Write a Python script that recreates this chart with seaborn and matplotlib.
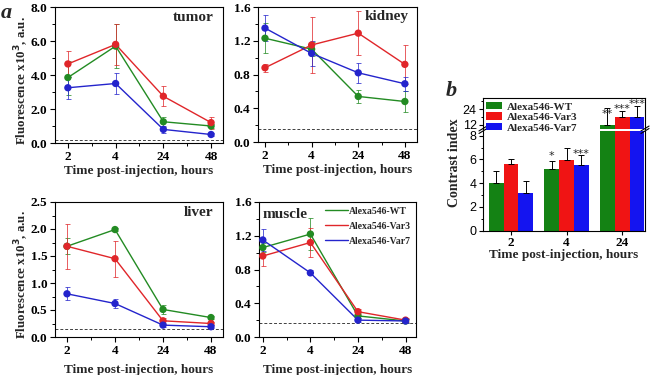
import numpy as np
import pandas as pd
import matplotlib
matplotlib.use('Agg')
import matplotlib.pyplot as plt
import seaborn as sns
from matplotlib.ticker import MultipleLocator, FormatStrFormatter, FixedLocator
from matplotlib.lines import Line2D
from matplotlib.patches import Patch

# ---------------- data ----------------
times = ['2', '4', '24', '48']
variants = ['Alexa546-WT', 'Alexa546-Var3', 'Alexa546-Var7']

tumor_wt = [3.85, 5.70, 1.25, 1.00]
tumor_wt_err = [1.00, 1.30, 0.30, 0.12]
tumor_var3 = [4.65, 5.80, 2.75, 1.20]
tumor_var3_err = [0.75, 1.20, 0.60, 0.35]
tumor_var7 = [3.25, 3.50, 0.80, 0.50]
tumor_var7_err = [0.65, 0.60, 0.20, 0.10]

kidney_wt = [1.23, 1.10, 0.54, 0.48]
kidney_wt_err = [0.18, 0.08, 0.08, 0.12]
kidney_var3 = [0.88, 1.15, 1.29, 0.92]
kidney_var3_err = [0.05, 0.33, 0.26, 0.23]
kidney_var7 = [1.35, 1.05, 0.82, 0.69]
kidney_var7_err = [0.15, 0.15, 0.12, 0.08]

liver_wt = [1.68, 1.99, 0.51, 0.36]
liver_wt_err = [0.15, 0.03, 0.08, 0.03]
liver_var3 = [1.68, 1.45, 0.30, 0.25]
liver_var3_err = [0.42, 0.33, 0.05, 0.03]
liver_var7 = [0.80, 0.62, 0.22, 0.19]
liver_var7_err = [0.12, 0.08, 0.04, 0.03]

muscle_wt = [1.06, 1.22, 0.25, 0.19]
muscle_wt_err = [0.05, 0.19, 0.03, 0.02]
muscle_var3 = [0.96, 1.12, 0.30, 0.20]
muscle_var3_err = [0.12, 0.17, 0.03, 0.02]
muscle_var7 = [1.15, 0.76, 0.20, 0.19]
muscle_var7_err = [0.13, 0.03, 0.02, 0.02]

baseline = {'tumor': 0.15, 'kidney': 0.16, 'liver': 0.15, 'muscle': 0.17}

bar_times = ['2', '4', '24']
ci_wt = [4.05, 5.20, 12.0]
ci_wt_err = [0.95, 0.65, 13.0]
ci_var3 = [5.60, 5.95, 17.8]
ci_var3_err = [0.40, 1.05, 4.9]
ci_var7 = [3.20, 5.55, 18.2]
ci_var7_err = [0.95, 0.85, 8.6]

# ---------------- style ----------------
sns.set_theme(style='ticks')
plt.rcParams['font.family'] = ['Liberation Serif', 'DejaVu Serif']
plt.rcParams['font.weight'] = 'bold'
plt.rcParams['axes.labelweight'] = 'bold'
plt.rcParams['axes.linewidth'] = 0.8
plt.rcParams['axes.edgecolor'] = 'black'
plt.rcParams['xtick.color'] = 'black'
plt.rcParams['ytick.color'] = 'black'

line_colors = ['#238b23', '#e0262a', '#2424cc']
bar_colors = ['#148214', '#f01414', '#1414f0']

W, H = 653, 375
fig = plt.figure(figsize=(W / 100, H / 100), dpi=100)


def frac(l, t, r, b):
    return [l / W, 1 - b / H, (r - l) / W, (b - t) / H]


organs = {
    'tumor': ([tumor_wt, tumor_var3, tumor_var7],
              [tumor_wt_err, tumor_var3_err, tumor_var7_err]),
    'kidney': ([kidney_wt, kidney_var3, kidney_var7],
               [kidney_wt_err, kidney_var3_err, kidney_var7_err]),
    'liver': ([liver_wt, liver_var3, liver_var7],
              [liver_wt_err, liver_var3_err, liver_var7_err]),
    'muscle': ([muscle_wt, muscle_var3, muscle_var7],
               [muscle_wt_err, muscle_var3_err, muscle_var7_err]),
}

panel_cfg = {
    'tumor': dict(rect=(55, 7, 223, 143), xlim=(-0.27, 3.25), ylim=(0, 8), major=2, minor=1,
                  lab=(0.945, 0.926, 'right'), ylabel=True, lpad=2),
    'kidney': dict(rect=(258, 7, 417, 142), xlim=(-0.15, 3.26), ylim=(0, 1.6), major=0.4, minor=0.2,
                   lab=(0.945, 0.926, 'right'), ylabel=False, lpad=2),
    'liver': dict(rect=(55, 202, 223, 337), xlim=(-0.25, 3.25), ylim=(0, 2.5), major=0.5, minor=0.25,
                  lab=(0.945, 0.919, 'right'), ylabel=True, lpad=5),
    'muscle': dict(rect=(259, 202, 416, 337), xlim=(-0.08, 3.22), ylim=(0, 1.6), major=0.4, minor=0.2,
                   lab=(0.02, 0.907, 'left'), ylabel=False, lpad=5),
}

for organ, (vals, errs) in organs.items():
    cfg = panel_cfg[organ]
    ax = fig.add_axes(frac(*cfg['rect']))
    rows = []
    for name, vv, ee in zip(variants, vals, errs):
        for i, t in enumerate(times):
            rows.append(dict(pos=i, time=t, variant=name, value=vv[i], err=ee[i]))
    df = pd.DataFrame(rows)
    ax.axhline(baseline[organ], ls=(0, (3, 2)), color='0.25', lw=0.7, zorder=1)
    sns.lineplot(data=df, x='pos', y='value', hue='variant', palette=line_colors,
                 hue_order=variants, lw=1.0, ax=ax, legend=False, zorder=3)
    for name, c in zip(variants, line_colors):
        sub = df[df.variant == name]
        ax.errorbar(sub.pos, sub.value, yerr=sub.err, fmt='none', ecolor=c,
                    elinewidth=0.7, capsize=1.8, capthick=0.7, alpha=0.75, zorder=2)
    sns.scatterplot(data=df, x='pos', y='value', hue='variant', palette=line_colors,
                    hue_order=variants, s=28, linewidth=0, ax=ax, legend=False, zorder=4)
    ax.set_xlim(*cfg['xlim'])
    ax.set_ylim(*cfg['ylim'])
    ax.set_xticks(range(len(times)))
    ax.set_xticklabels(times)
    ax.xaxis.set_minor_locator(FixedLocator([0.5, 1.5, 2.5]))
    ax.yaxis.set_major_locator(MultipleLocator(cfg['major']))
    ax.yaxis.set_minor_locator(MultipleLocator(cfg['minor']))
    ax.yaxis.set_major_formatter(FormatStrFormatter('%.1f'))
    ax.tick_params(which='major', direction='out', length=3.5, width=0.8, labelsize=9.5, pad=2)
    ax.tick_params(which='minor', direction='out', length=2, width=0.7)
    for s in ax.spines.values():
        s.set_visible(True)
        s.set_linewidth(0.8)
    ax.set_xlabel('Time post-injection, hours', fontsize=9.5, fontweight='bold', labelpad=cfg['lpad'])
    if cfg['ylabel']:
        ax.set_ylabel('Fluorescence x10$^\\mathbf{3}$, a.u.', fontsize=9.3, fontweight='bold')
        ax.yaxis.set_label_coords((31 - 55) / 168, 0.46)
    else:
        ax.set_ylabel('')
    lx, ly, ha = cfg['lab']
    ax.text(lx, ly, organ, transform=ax.transAxes, ha=ha, va='center', fontsize=11, fontweight='bold')
    if organ == 'muscle':
        handles = [Line2D([], [], color=c, lw=1.0) for c in line_colors]
        ax.legend(handles, variants, loc='upper right', frameon=False, fontsize=7,
                  handlelength=2.3, handletextpad=0.15, labelspacing=0.6,
                  borderaxespad=0.1, bbox_to_anchor=(1.0, 1.0))

fig.text(1 / W, 1 - 13 / H, 'a', fontsize=16, fontweight='bold', fontstyle='italic', va='center')
fig.text(446 / W, 1 - 91 / H, 'b', fontsize=16, fontweight='bold', fontstyle='italic', va='center')

# ---------------- panel b ----------------
rows = []
for name, vv, ee in zip(variants, [ci_wt, ci_var3, ci_var7], [ci_wt_err, ci_var3_err, ci_var7_err]):
    for i, t in enumerate(bar_times):
        rows.append(dict(time=t, variant=name, value=vv[i], err=ee[i]))
dfb = pd.DataFrame(rows)

ax_hi = fig.add_axes(frac(483, 98, 645, 128.5))
ax_lo = fig.add_axes(frac(483, 131, 645, 230.7))

for axb in (ax_lo, ax_hi):
    sns.barplot(data=dfb, x='time', y='value', hue='variant', hue_order=variants,
                palette=bar_colors, errorbar=None, saturation=1, width=0.8,
                linewidth=0, ax=axb, legend=False, zorder=2)
    for cont, name in zip(axb.containers, variants):
        sub = dfb[dfb.variant == name]
        xs = [b.get_x() + b.get_width() / 2 for b in cont]
        axb.errorbar(xs, sub.value, yerr=[np.zeros(len(sub)), sub.err], fmt='none',
                     ecolor='black', elinewidth=0.7, capsize=2.2, capthick=0.7, zorder=3)
    axb.set_xlim(-0.505, 2.41)
    axb.set_ylabel('')
    axb.tick_params(which='major', direction='out', length=3, width=0.8, pad=1.5)
    axb.tick_params(which='minor', direction='out', length=1.8, width=0.7)
    for s in axb.spines.values():
        s.set_visible(True)
        s.set_linewidth(0.8)

ax_lo.set_ylim(0, 8.4)
ax_lo.yaxis.set_minor_locator(MultipleLocator(1))
ax_lo.set_yticks([0, 2, 4, 6, 8])
ax_lo.set_yticklabels(['0', '2', '4', '6', '8'], fontfamily='Liberation Sans', fontweight='normal', fontsize=9)
ax_lo.set_xticks(range(len(bar_times)))
ax_lo.set_xticklabels(bar_times, fontsize=9.5, fontweight='bold')
ax_lo.spines['top'].set_visible(False)
ax_lo.set_xlabel('Time post-injection, hours', fontsize=9.5, fontweight='bold', labelpad=0)

ax_hi.set_ylim(9.3, 32.6)
ax_hi.set_yticks([12, 24])
ax_hi.set_yticklabels(['12', '24'], fontfamily='Liberation Sans', fontweight='normal', fontsize=9)
ax_hi.yaxis.set_minor_locator(FixedLocator([18, 30]))
ax_hi.set_xticks([])
ax_hi.set_xlabel('')
ax_hi.spines['bottom'].set_visible(False)

# break marks
for axb, yb in ((ax_hi, 0.0), (ax_lo, 1.0)):
    for xb in (0.0, 1.0):
        d = 0.025
        dy = 0.08 if axb is ax_hi else 0.025
        axb.plot([xb - d, xb + d], [yb - dy, yb + dy], transform=axb.transAxes,
                 color='black', lw=0.8, clip_on=False)


# significance stars
def star(ax, cat, var, y, txt):
    cont = ax.containers[variants.index(var)]
    b = cont[bar_times.index(cat)]
    ax.text(b.get_x() + b.get_width() / 2, y, txt, ha='center', va='center',
            fontsize=8, fontweight='normal', fontfamily='DejaVu Sans', zorder=4)


star(ax_lo, '4', 'Alexa546-WT', 6.3, '*')
star(ax_lo, '4', 'Alexa546-Var7', 6.5, '***')
star(ax_hi, '24', 'Alexa546-WT', 20.5, '**')
star(ax_hi, '24', 'Alexa546-Var3', 24.5, '***')
star(ax_hi, '24', 'Alexa546-Var7', 27.8, '***')

fig.text(454 / W, 1 - 163 / H, 'Contrast index', rotation=90, ha='center', va='center',
         fontsize=10, fontweight='bold')

handles = [Patch(facecolor=c, edgecolor='none') for c in bar_colors]
fig.legend(handles, variants, loc='upper left', bbox_to_anchor=(486 / W, 1 - 102 / H),
           frameon=False, fontsize=8, handlelength=1.45, handleheight=0.65,
           handletextpad=0.4, labelspacing=0.08, borderpad=0, borderaxespad=0)

fig.savefig('out.png', dpi=100)
